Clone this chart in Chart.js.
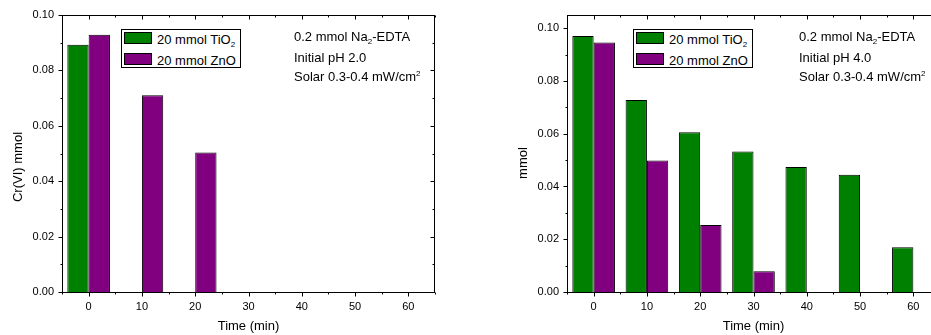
<!DOCTYPE html>
<html>
<head>
<meta charset="utf-8">
<script src="https://cdn.jsdelivr.net/npm/chart.js@4.4.1/dist/chart.umd.min.js"></script>
<style>
  html, body { margin: 0; padding: 0; background: #fff; }
  body { width: 931px; height: 335px; overflow: hidden; position: relative;
         font-family: "Liberation Sans", Arial, sans-serif; color: #000; }
  canvas { position: absolute; top: 0; }
  #chartPh2 { left: 0; }
  #chartPh4 { left: 465px; }
  .legend { position: absolute; width: 120px; height: 39px; box-sizing: border-box;
            border: 1px solid #000; background: #fff; }
  .swatch { position: absolute; left: 2px; width: 28px; height: 12px; box-sizing: border-box;
            border: 1px solid #000; }
  .txt { position: absolute; font-size: 13px; line-height: 15px; white-space: nowrap; }
  sub { font-size: 8px; line-height: 0; vertical-align: -3px; }
  sup { font-size: 8px; line-height: 0; vertical-align: 5px; }
</style>
</head>
<body>
<canvas id="chartPh2" width="465" height="335"></canvas>
<canvas id="chartPh4" width="478" height="335"></canvas>

<script>
// data
const times = [0, 10, 20, 30, 40, 50, 60];
const tio2Ph2 = [0.0893, null, null, null, null, null, null];
const znoPh2 = [0.0929, 0.0710, 0.0504, null, null, null, null];
const tio2Ph4 = [0.0970, 0.0728, 0.0606, 0.0533, 0.0474, 0.0444, 0.0170];
const znoPh4 = [0.0946, 0.0498, 0.0254, 0.0079, null, null, null];

const xTickValues = [0, 10, 20, 30, 40, 50, 60];
const xMinorValues = [-5, 5, 15, 25, 35, 45, 55, 65];
const yTickValues = [0, 0.02, 0.04, 0.06, 0.08, 0.10];
const yMinorValues = [0.01, 0.03, 0.05, 0.07, 0.09];

const legendLabels = ['20 mmol TiO<sub>2</sub>', '20 mmol ZnO'];
const notesPh2 = ['0.2 mmol Na<sub>2</sub>-EDTA', 'Initial pH 2.0', 'Solar 0.3-0.4 mW/cm<sup>2</sup>'];
const notesPh4 = ['0.2 mmol Na<sub>2</sub>-EDTA', 'Initial pH 4.0', 'Solar 0.3-0.4 mW/cm<sup>2</sup>'];

const GREEN = '#008000';
const PURPLE = '#800080';
const FONT = '"Liberation Sans", Arial, sans-serif';

// box + inward/outward tick marks like the Origin frame
const framePlugin = {
  id: 'frame',
  afterDatasetsDraw(chart) {
    const { ctx, chartArea: a, scales: { x, y } } = chart;
    const L = Math.round(a.left) + 0.5, R = Math.round(a.right) - 0.5;
    const T = Math.round(a.top) + 0.5, B = Math.round(a.bottom) + 0.5;
    ctx.save();
    ctx.strokeStyle = '#000';
    ctx.lineWidth = 1;
    ctx.strokeRect(L, T, R - L, B - T);
    ctx.beginPath();
    const seg = (x1, y1, x2, y2) => { ctx.moveTo(x1, y1); ctx.lineTo(x2, y2); };
    const xs = (vals, len) => vals.forEach(v => {
      const px = Math.round(x.getPixelForValue(v)) + 0.5;
      seg(px, B, px, B + len);
      seg(px, T, px, T + len);
    });
    const ys = (vals, len) => vals.forEach(v => {
      const py = Math.round(y.getPixelForValue(v)) + 0.5;
      seg(L - len, py, L, py);
      seg(R, py, R - len, py);
    });
    xs(xTickValues, 4); xs(xMinorValues, 2);
    ys(yTickValues, 4); ys(yMinorValues, 2);
    ctx.stroke();
    ctx.restore();
  }
};

const yTitlePlugin = {
  id: 'yTitle',
  afterDraw(chart, args, o) {
    const ctx = chart.ctx;
    ctx.save();
    ctx.translate(o.x, o.y);
    ctx.rotate(-Math.PI / 2);
    ctx.font = '13px ' + FONT;
    ctx.fillStyle = '#000';
    ctx.textAlign = 'center';
    ctx.textBaseline = 'middle';
    ctx.fillText(o.text, 0, 0);
    ctx.restore();
  }
};

function toPoints(vals) {
  return times.map((t, i) => ({ x: t, y: vals[i] })).filter(p => p.y !== null);
}

function makeChart(id, tio2, zno, cfg) {
  const barStyle = { borderColor: '#000', borderWidth: 1, borderSkipped: 'bottom',
                     categoryPercentage: 0.8, barPercentage: 1.0 };
  return new Chart(document.getElementById(id), {
    type: 'bar',
    data: {
      datasets: [
        Object.assign({ label: '20 mmol TiO2', data: toPoints(tio2), backgroundColor: GREEN }, barStyle),
        Object.assign({ label: '20 mmol ZnO', data: toPoints(zno), backgroundColor: PURPLE }, barStyle)
      ]
    },
    options: {
      responsive: false,
      animation: false,
      layout: { padding: { top: 15, right: cfg.padRight, left: 0, bottom: 0 } },
      plugins: {
        legend: { display: false },
        tooltip: { enabled: false },
        yTitle: cfg.yTitle
      },
      scales: {
        x: {
          type: 'linear', min: -5, max: 65, offset: false,
          grid: { display: false, drawTicks: false, offset: false }, border: { display: false },
          afterBuildTicks: s => { s.ticks = xTickValues.map(v => ({ value: v })); },
          afterFit: s => { s.height = 43; },
          ticks: { padding: 8, color: '#000', font: { family: FONT, size: 11 },
                   maxRotation: 0, autoSkip: false },
          title: { display: true, text: 'Time (min)', color: '#000',
                   font: { family: FONT, size: 13 }, padding: { top: 0, bottom: 1 } }
        },
        y: {
          type: 'linear', min: 0, max: cfg.yMax,
          grid: { display: false, drawTicks: false }, border: { display: false },
          afterBuildTicks: s => { s.ticks = yTickValues.map(v => ({ value: v })); },
          afterFit: s => { s.width = cfg.yWidth; },
          ticks: { padding: 8, color: '#000', font: { family: FONT, size: 11 },
                   callback: v => Number(v).toFixed(2) }
        }
      }
    },
    plugins: [framePlugin, yTitlePlugin]
  });
}

function addLegend(left, top) {
  const box = document.createElement('div');
  box.className = 'legend';
  box.style.left = left + 'px';
  box.style.top = top + 'px';
  [GREEN, PURPLE].forEach((c, i) => {
    const sw = document.createElement('div');
    sw.className = 'swatch';
    sw.style.background = c;
    sw.style.top = (2 + i * 21) + 'px';
    box.appendChild(sw);
    const t = document.createElement('div');
    t.className = 'txt';
    t.style.left = '35px';
    t.style.top = (1.5 + i * 21) + 'px';
    t.innerHTML = legendLabels[i];
    box.appendChild(t);
  });
  document.body.appendChild(box);
}

function addNotes(left, lines) {
  const tops = [29, 50, 69];
  lines.forEach((s, i) => {
    const t = document.createElement('div');
    t.className = 'txt';
    t.style.left = left + 'px';
    t.style.top = tops[i] + 'px';
    t.innerHTML = s;
    document.body.appendChild(t);
  });
}

makeChart('chartPh2', tio2Ph2, znoPh2, {
  yMax: 0.10, yWidth: 62, padRight: 30,
  yTitle: { text: 'Cr(VI) mmol', x: 18, y: 167 }
});
makeChart('chartPh4', tio2Ph4, znoPh4, {
  yMax: 0.105, yWidth: 102, padRight: 3,
  yTitle: { text: 'mmol', x: 58, y: 163 }
});

addLegend(121, 29);
addLegend(633, 29);
addNotes(294, notesPh2);
addNotes(799, notesPh4);
</script>
</body>
</html>
